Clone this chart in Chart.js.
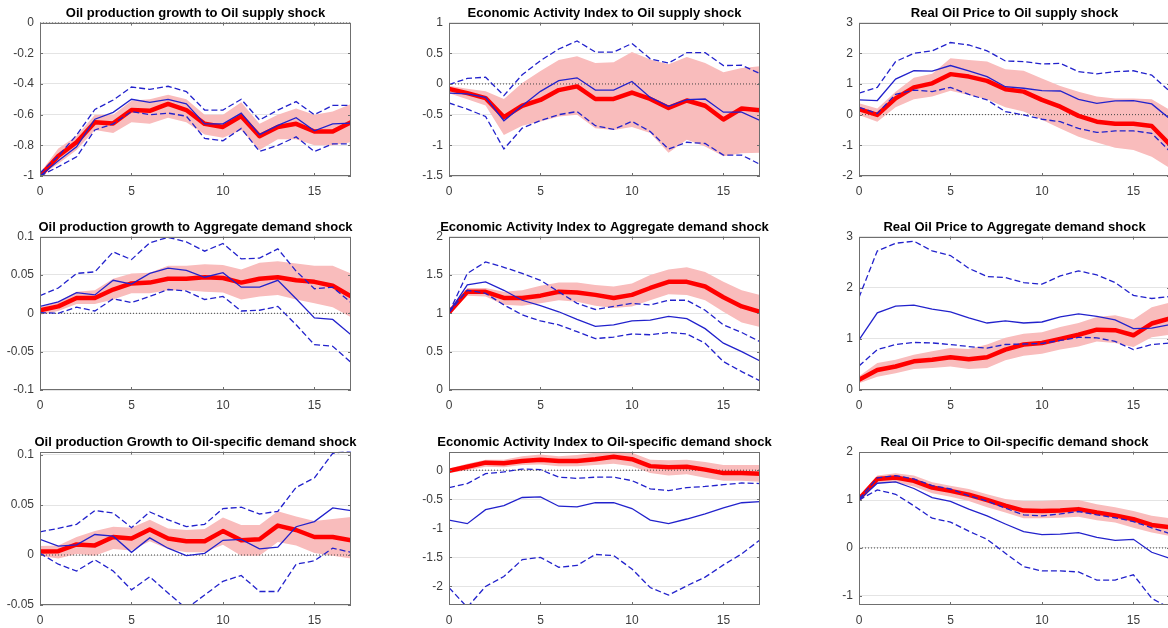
<!DOCTYPE html>
<html><head><meta charset="utf-8">
<script src="https://cdn.jsdelivr.net/npm/chart.js@4.4.1/dist/chart.umd.min.js"></script>
<style>
html,body{margin:0;padding:0;background:#fff;overflow:hidden;width:1168px;height:628px;position:relative;}
canvas{position:absolute;}
</style></head><body>
<script>
// ---------- data ----------
const horizons = [0,1,2,3,4,5,6,7,8,9,10,11,12,13,14,15,16,17];
const xTicks = [0,5,10,15];

// Row 1: Oil supply shock
const r1c1Med    = [-1,-0.87,-0.78,-0.65,-0.657,-0.57,-0.575,-0.53,-0.57,-0.66,-0.68,-0.61,-0.74,-0.68,-0.66,-0.71,-0.71,-0.65];
const r1c1Blue   = [-1,-0.9,-0.81,-0.63,-0.585,-0.5,-0.52,-0.5,-0.53,-0.66,-0.66,-0.59,-0.73,-0.67,-0.62,-0.705,-0.66,-0.655];
const r1c1BlueHi = [-0.98,-0.87,-0.733,-0.566,-0.505,-0.42,-0.435,-0.415,-0.45,-0.57,-0.57,-0.5,-0.635,-0.57,-0.515,-0.6,-0.54,-0.54];
const r1c1BlueLo = [-1,-0.94,-0.875,-0.7,-0.66,-0.58,-0.6,-0.59,-0.61,-0.755,-0.77,-0.69,-0.84,-0.8,-0.745,-0.84,-0.79,-0.79];
const r1c1BandHi = [-0.98,-0.82,-0.74,-0.6,-0.6,-0.51,-0.5,-0.47,-0.5,-0.6,-0.6,-0.52,-0.66,-0.6,-0.56,-0.6,-0.58,-0.53];
const r1c1BandLo = [-1,-0.92,-0.83,-0.7,-0.72,-0.65,-0.66,-0.62,-0.65,-0.73,-0.75,-0.7,-0.83,-0.76,-0.76,-0.8,-0.8,-0.78];
const r1c1Ticks  = [-1,-0.8,-0.6,-0.4,-0.2,0];

const r1c2Med    = [-0.08,-0.15,-0.23,-0.54,-0.355,-0.26,-0.10,-0.04,-0.245,-0.245,-0.14,-0.245,-0.39,-0.27,-0.355,-0.58,-0.40,-0.43];
const r1c2Blue   = [-0.15,-0.16,-0.22,-0.60,-0.355,-0.12,0.055,0.10,-0.10,-0.10,0.04,-0.22,-0.365,-0.255,-0.245,-0.46,-0.46,-0.595];
const r1c2BlueHi = [-0.01,0.09,0.11,-0.19,0.15,0.38,0.57,0.70,0.52,0.52,0.66,0.41,0.34,0.51,0.51,0.30,0.305,0.17];
const r1c2BlueLo = [-0.31,-0.41,-0.53,-1.06,-0.72,-0.595,-0.50,-0.45,-0.68,-0.74,-0.61,-0.775,-1.06,-0.95,-0.97,-1.16,-1.16,-1.31];
const r1c2BandHi = [-0.03,-0.08,-0.12,-0.245,0.015,0.21,0.39,0.45,0.34,0.355,0.52,0.40,0.32,0.44,0.34,0.19,0.26,0.29];
const r1c2BandLo = [-0.15,-0.25,-0.35,-0.83,-0.68,-0.61,-0.53,-0.50,-0.72,-0.75,-0.70,-0.80,-1.12,-0.91,-1.02,-1.18,-1.13,-1.12];
const r1c2Ticks  = [-1.5,-1,-0.5,0,0.5,1];

const r1c3Med    = [0.18,-0.01,0.53,0.89,1.02,1.32,1.24,1.10,0.83,0.75,0.48,0.26,-0.04,-0.23,-0.30,-0.30,-0.37,-0.98];
const r1c3Blue   = [0.48,0.46,1.16,1.43,1.42,1.60,1.43,1.24,0.91,0.86,0.78,0.77,0.50,0.37,0.45,0.46,0.35,-0.14];
const r1c3BlueHi = [0.70,0.89,1.73,2.0,2.08,2.35,2.27,2.08,1.75,1.73,1.65,1.67,1.40,1.33,1.40,1.43,1.29,0.75];
const r1c3BlueLo = [0.24,0.04,0.66,0.80,0.75,0.89,0.66,0.48,0.10,-0.01,-0.15,-0.23,-0.45,-0.58,-0.53,-0.53,-0.61,-1.2];
const r1c3BandHi = [0.37,0.2,0.75,1.2,1.33,1.84,1.78,1.73,1.48,1.43,1.18,0.93,0.75,0.59,0.53,0.53,0.50,0.15];
const r1c3BandLo = [-0.01,-0.23,0.24,0.5,0.59,0.78,0.64,0.5,0.24,0.1,-0.17,-0.45,-0.72,-0.91,-1.08,-1.15,-1.37,-1.75];
const r1c3Ticks  = [-2,-1,0,1,2,3];

// Row 2: Aggregate demand shock
const r2c1Med    = [0.004,0.009,0.020,0.020,0.031,0.039,0.040,0.045,0.045,0.047,0.046,0.040,0.045,0.047,0.043,0.041,0.036,0.022];
const r2c1Blue   = [0.009,0.015,0.027,0.024,0.043,0.038,0.052,0.059,0.056,0.047,0.053,0.034,0.034,0.043,0.019,-0.006,-0.008,-0.028];
const r2c1BlueHi = [0.023,0.033,0.052,0.054,0.080,0.070,0.092,0.099,0.093,0.081,0.091,0.071,0.072,0.084,0.055,0.032,0.034,0.014];
const r2c1BlueLo = [0.001,0.0,0.008,0.003,0.019,0.014,0.022,0.031,0.029,0.018,0.022,0.003,0.004,0.009,-0.015,-0.041,-0.043,-0.064];
const r2c1BandHi = [0.008,0.015,0.028,0.030,0.045,0.052,0.053,0.062,0.062,0.064,0.063,0.057,0.066,0.068,0.065,0.062,0.062,0.052];
const r2c1BandLo = [-0.002,0.003,0.012,0.012,0.018,0.026,0.026,0.030,0.030,0.028,0.027,0.018,0.022,0.024,0.018,0.013,0.008,-0.005];
const r2c1Ticks  = [-0.1,-0.05,0,0.05,0.1];

const r2c2Med    = [1.01,1.28,1.28,1.20,1.20,1.23,1.28,1.27,1.24,1.20,1.24,1.33,1.41,1.41,1.35,1.21,1.09,1.02];
const r2c2Blue   = [1.01,1.37,1.41,1.30,1.17,1.10,1.02,0.92,0.83,0.85,0.90,0.91,0.96,0.93,0.80,0.61,0.50,0.38];
const r2c2BlueHi = [1.01,1.52,1.67,1.60,1.52,1.43,1.28,1.13,1.05,1.09,1.13,1.11,1.17,1.17,1.04,0.85,0.75,0.63];
const r2c2BlueLo = [1.01,1.30,1.26,1.11,0.98,0.90,0.85,0.76,0.67,0.69,0.73,0.72,0.75,0.73,0.61,0.37,0.24,0.12];
const r2c2BandHi = [1.02,1.33,1.33,1.28,1.30,1.36,1.40,1.40,1.37,1.35,1.39,1.50,1.57,1.60,1.54,1.41,1.30,1.24];
const r2c2BandLo = [0.99,1.23,1.22,1.11,1.10,1.13,1.17,1.15,1.10,1.07,1.09,1.17,1.25,1.24,1.17,1.02,0.88,0.82];
const r2c2Ticks  = [0,0.5,1,1.5,2];

const r2c3Med    = [0.20,0.39,0.46,0.56,0.59,0.64,0.60,0.64,0.79,0.89,0.92,1.00,1.08,1.18,1.17,1.07,1.30,1.40];
const r2c3Blue   = [0.98,1.51,1.64,1.66,1.58,1.53,1.41,1.31,1.35,1.31,1.33,1.43,1.49,1.44,1.37,1.20,1.21,1.28];
const r2c3BlueHi = [1.81,2.72,2.87,2.91,2.72,2.63,2.38,2.22,2.20,2.10,2.07,2.23,2.33,2.25,2.10,1.85,1.79,1.83];
const r2c3BlueLo = [0.47,0.79,0.89,0.93,0.92,0.89,0.85,0.82,0.89,0.90,0.91,0.97,1.03,1.02,0.95,0.79,0.89,0.92];
const r2c3BandHi = [0.27,0.53,0.59,0.69,0.76,0.82,0.80,0.89,1.02,1.10,1.13,1.23,1.31,1.43,1.46,1.38,1.62,1.71];
const r2c3BandLo = [0.13,0.26,0.33,0.41,0.43,0.46,0.41,0.43,0.58,0.67,0.71,0.79,0.85,0.95,0.92,0.84,1.03,1.08];
const r2c3Ticks  = [0,1,2,3];

// Row 3: Oil-specific demand shock
const r3c1Med    = [0.0034,0.0038,0.0106,0.0096,0.018,0.0164,0.0256,0.0164,0.0137,0.0137,0.0239,0.0147,0.0157,0.0294,0.025,0.018,0.018,0.0147];
const r3c1Blue   = [0.0157,0.0089,0.0102,0.0205,0.0188,0.0027,0.0171,0.0068,-0.0007,0.0017,0.0147,0.0157,0.0061,0.0078,0.0283,0.0334,0.0471,0.0444];
const r3c1BlueHi = [0.0232,0.0266,0.0307,0.0444,0.042,0.0273,0.043,0.0352,0.0283,0.0307,0.0464,0.0478,0.041,0.0437,0.0676,0.0771,0.1017,0.104];
const r3c1BlueLo = [0.0017,-0.0092,-0.016,-0.0048,-0.016,-0.0348,-0.0218,-0.038,-0.0536,-0.04,-0.0263,-0.0205,-0.0365,-0.0365,-0.0092,-0.0058,0.0068,0.0027];
const r3c1BandHi = [0.009,0.0096,0.018,0.024,0.0283,0.0273,0.0352,0.0266,0.025,0.026,0.0375,0.03,0.03,0.0437,0.0386,0.034,0.036,0.0379];
const r3c1BandLo = [-0.0007,-0.0034,0.001,-0.0007,0.0061,0.0044,0.0137,0.0061,0.0027,0.0027,0.0102,-0.0007,-0.0007,0.013,0.0096,0.002,-0.0007,-0.0034];
const r3c1Ticks  = [-0.05,0,0.05,0.1];

const r3c2Med    = [-0.01,0.06,0.13,0.12,0.16,0.18,0.16,0.16,0.19,0.23,0.19,0.07,0.05,0.06,0.01,-0.05,-0.05,-0.06];
const r3c2Blue   = [-0.86,-0.92,-0.68,-0.61,-0.47,-0.46,-0.62,-0.63,-0.56,-0.56,-0.66,-0.86,-0.92,-0.84,-0.75,-0.65,-0.56,-0.54];
const r3c2BlueHi = [-0.30,-0.23,-0.06,-0.03,0.02,0.01,-0.12,-0.14,-0.12,-0.12,-0.18,-0.32,-0.35,-0.30,-0.28,-0.25,-0.22,-0.23];
const r3c2BlueLo = [-2.02,-2.36,-2.0,-1.83,-1.54,-1.50,-1.67,-1.64,-1.45,-1.47,-1.70,-2.02,-2.15,-1.99,-1.84,-1.63,-1.44,-1.20];
const r3c2BandHi = [0.03,0.11,0.18,0.18,0.24,0.27,0.24,0.26,0.30,0.35,0.30,0.18,0.17,0.18,0.14,0.09,0.09,0.09];
const r3c2BandLo = [-0.05,0.0,0.06,0.05,0.09,0.10,0.07,0.07,0.09,0.11,0.07,-0.05,-0.09,-0.07,-0.13,-0.18,-0.18,-0.2];
const r3c2Ticks  = [-2,-1.5,-1,-0.5,0];

const r3c3Med    = [1.02,1.44,1.47,1.40,1.26,1.19,1.11,1.00,0.88,0.78,0.77,0.78,0.81,0.74,0.68,0.60,0.48,0.43];
const r3c3Blue   = [1.0,1.35,1.38,1.24,1.05,0.97,0.81,0.67,0.50,0.34,0.28,0.29,0.32,0.22,0.16,0.18,-0.09,-0.22];
const r3c3BlueHi = [1.02,1.46,1.51,1.44,1.30,1.23,1.09,0.98,0.83,0.69,0.67,0.71,0.76,0.69,0.63,0.55,0.42,0.30];
const r3c3BlueLo = [1.0,1.21,1.12,0.88,0.62,0.54,0.35,0.18,-0.11,-0.39,-0.48,-0.48,-0.50,-0.67,-0.67,-0.56,-1.05,-1.26];
const r3c3BandHi = [1.07,1.51,1.56,1.51,1.37,1.30,1.23,1.12,1.02,0.98,0.98,1.0,1.0,0.91,0.85,0.77,0.67,0.62];
const r3c3BandLo = [0.97,1.35,1.37,1.28,1.14,1.07,0.98,0.85,0.74,0.62,0.62,0.63,0.65,0.58,0.53,0.42,0.32,0.25];
const r3c3Ticks  = [-1,0,1,2];

const titles = [
  'Oil production growth to Oil supply shock',
  'Economic Activity Index to Oil supply shock',
  'Real Oil Price to Oil supply shock',
  'Oil production growth to Aggregate demand shock',
  'Economic Activity Index to Aggregate demand shock',
  'Real Oil Price to Aggregate demand shock',
  'Oil production Growth to Oil-specific demand shock',
  'Economic Activity Index to Oil-specific demand shock',
  'Real Oil Price to Oil-specific demand shock'
];
const yMins = [-1,-1.5,-2, -0.1,0,0, -0.05,-2.32,-1.19];
const yMaxs = [0,1,3, 0.1,2,3, 0.1034,0.32,2.01];

// ---------- layout ----------
const colLeft = [0,409,819];
const rowTop = [0,214,429];
const CW = 391, CH = 204;
const FONT = "'Liberation Sans', Arial, Helvetica, sans-serif";
const BOX = '#6f6f6f';

const panels = [
  [r1c1Med,r1c1Blue,r1c1BlueHi,r1c1BlueLo,r1c1BandHi,r1c1BandLo,r1c1Ticks],
  [r1c2Med,r1c2Blue,r1c2BlueHi,r1c2BlueLo,r1c2BandHi,r1c2BandLo,r1c2Ticks],
  [r1c3Med,r1c3Blue,r1c3BlueHi,r1c3BlueLo,r1c3BandHi,r1c3BandLo,r1c3Ticks],
  [r2c1Med,r2c1Blue,r2c1BlueHi,r2c1BlueLo,r2c1BandHi,r2c1BandLo,r2c1Ticks],
  [r2c2Med,r2c2Blue,r2c2BlueHi,r2c2BlueLo,r2c2BandHi,r2c2BandLo,r2c2Ticks],
  [r2c3Med,r2c3Blue,r2c3BlueHi,r2c3BlueLo,r2c3BandHi,r2c3BandLo,r2c3Ticks],
  [r3c1Med,r3c1Blue,r3c1BlueHi,r3c1BlueLo,r3c1BandHi,r3c1BandLo,r3c1Ticks],
  [r3c2Med,r3c2Blue,r3c2BlueHi,r3c2BlueLo,r3c2BandHi,r3c2BandLo,r3c2Ticks],
  [r3c3Med,r3c3Blue,r3c3BlueHi,r3c3BlueLo,r3c3BandHi,r3c3BandLo,r3c3Ticks]
];

const pts = arr => arr.map((v,i)=>({x:horizons[i], y:v}));

const boxPlugin = {
  id:'matlabBox',
  afterDraw(chart){
    const {ctx, chartArea:a, scales:{x,y}} = chart;
    const yt = chart.options.plugins.matlabBox.yTicks;
    ctx.save();
    ctx.strokeStyle = BOX; ctx.lineWidth = 1;
    ctx.beginPath();
    xTicks.forEach(v=>{
      if (v===0) return;
      const px = Math.round(x.getPixelForValue(v))+0.5;
      ctx.moveTo(px,a.bottom); ctx.lineTo(px,a.bottom-3);
      ctx.moveTo(px,a.top); ctx.lineTo(px,a.top+3);
    });
    yt.forEach(v=>{
      const py = Math.round(y.getPixelForValue(v))+0.5;
      ctx.moveTo(a.left,py); ctx.lineTo(a.left+3,py);
      ctx.moveTo(a.right,py); ctx.lineTo(a.right-3,py);
    });
    ctx.stroke();
    ctx.strokeRect(Math.round(a.left)+0.5, Math.round(a.top)+0.5, Math.round(a.right-a.left)-1, Math.round(a.bottom-a.top)-1);
    ctx.restore();
  }
};

panels.forEach((p,k)=>{
  const [med,blue,bhi,blo,hi,lo,yt] = p;
  const cv = document.createElement('canvas');
  cv.width = CW; cv.height = CH;
  cv.style.left = colLeft[k%3]+'px';
  cv.style.top = rowTop[Math.floor(k/3)]+'px';
  document.body.appendChild(cv);
  new Chart(cv, {
    type:'line',
    data:{ datasets:[
      {data:pts(bhi), borderColor:'#2222cc', borderWidth:1.3, borderDash:[6,3], pointRadius:0, fill:false, order:0, tension:0},
      {data:pts(blo), borderColor:'#2222cc', borderWidth:1.3, borderDash:[6,3], pointRadius:0, fill:false, order:0, tension:0},
      {data:pts(blue), borderColor:'#2222cc', borderWidth:1.3, pointRadius:0, fill:false, order:0, tension:0},
      {data:pts(med), borderColor:'#ff0000', borderWidth:4.5, pointRadius:0, fill:false, order:1, tension:0, borderJoinStyle:'round'},
      {data:[{x:horizons[0],y:0},{x:horizons[horizons.length-1],y:0}], borderColor:'#444', borderWidth:1, borderDash:[1,2], pointRadius:0, fill:false, order:2},
      {data:pts(hi), borderWidth:0, borderColor:'rgba(0,0,0,0)', backgroundColor:'#f9bcbc', pointRadius:0, fill:{target:6}, order:3, tension:0},
      {data:pts(lo), borderWidth:0, borderColor:'rgba(0,0,0,0)', pointRadius:0, fill:false, order:3, tension:0}
    ]},
    options:{
      responsive:false, animation:false, devicePixelRatio:1,
      layout:{padding:0},
      plugins:{
        legend:{display:false}, tooltip:{enabled:false},
        title:{display:true, text:titles[k], color:'#000', font:{family:FONT,size:13,weight:'bold'}, padding:{top:6,bottom:1}},
        matlabBox:{yTicks:yt}
      },
      scales:{
        x:{type:'linear', min:0, max:17,
           afterBuildTicks:s=>{s.ticks = xTicks.map(v=>({value:v}));},
           afterFit:s=>{s.height = 28;},
           grid:{display:false}, border:{display:false},
           ticks:{color:'#3c3c3c', font:{family:FONT,size:12}, padding:0, maxRotation:0, callback:v=>String(v)}},
        y:{type:'linear', min:yMins[k], max:yMaxs[k],
           afterBuildTicks:s=>{s.ticks = yt.map(v=>({value:v}));},
           afterFit:s=>{s.width = 40;},
           grid:{color:'#e4e4e4', lineWidth:1, drawTicks:false}, border:{display:false},
           ticks:{color:'#3c3c3c', font:{family:FONT,size:12}, padding:6, callback:v=>String(parseFloat(Number(v).toFixed(4)))}},
        yRight:{type:'linear', position:'right', display:true, min:0, max:1,
           afterFit:s=>{s.width = 40;},
           grid:{display:false, drawOnChartArea:false}, border:{display:false},
           ticks:{display:false}}
      }
    },
    plugins:[boxPlugin]
  });
});
</script>
</body></html>
